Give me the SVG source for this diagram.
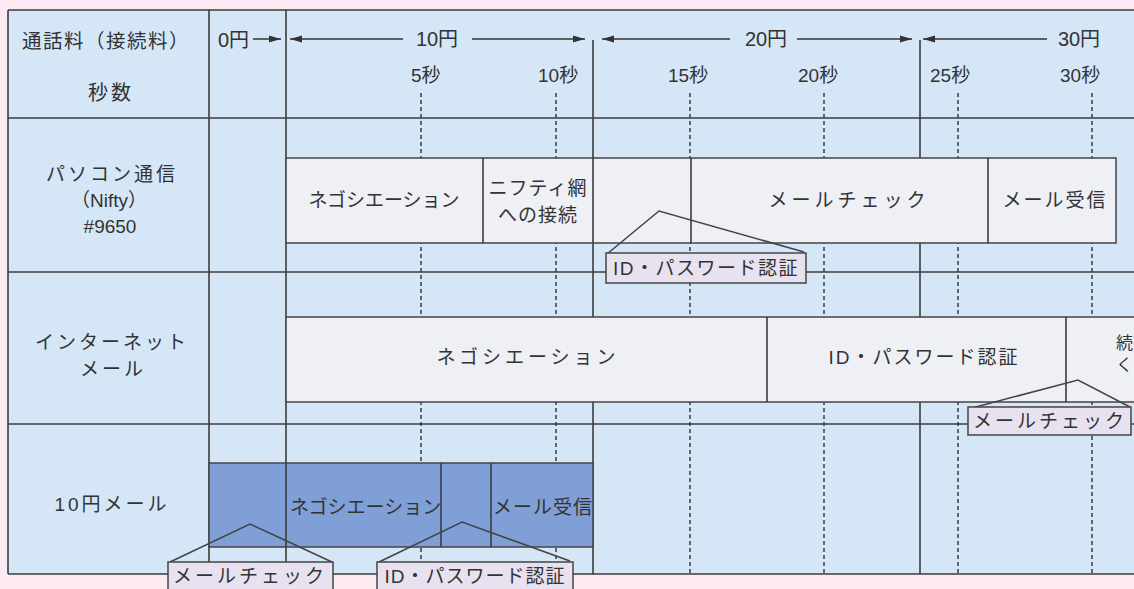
<svg xmlns="http://www.w3.org/2000/svg" width="1134" height="589" viewBox="0 0 1134 589">
<defs>
<style>
text{font-family:"Liberation Sans","Noto Sans CJK JP",sans-serif;fill:#333;font-size:19px}
.c{text-anchor:middle}
.grid{stroke:#3c3c3c;stroke-width:1.6;fill:none}
.dash{stroke:#3c3c3c;stroke-width:1.5;stroke-dasharray:4 3;fill:none}
.box{fill:#eef0f6;stroke:#444;stroke-width:1.5}
.dbox{fill:#809fd6;stroke:#444;stroke-width:1.5}
.lab{fill:#e8e1ef;stroke:#444;stroke-width:1.5}
.call{stroke:#444;stroke-width:1.5;fill:none}
.arr{stroke:#333;stroke-width:1.5;fill:none}
</style>
<marker id="ah" viewBox="0 0 12 8" refX="12" refY="4" markerWidth="12" markerHeight="8" markerUnits="userSpaceOnUse" orient="auto-start-reverse">
<path d="M0,0.5 L12,4 L0,7.5 Z" fill="#333"/>
</marker>
</defs>
<rect x="0" y="0" width="1134" height="589" fill="#fce9f1"/>
<rect x="8" y="10" width="1130" height="564" fill="#d5e7f6"/>

<g id="dashes">
<line class="dash" x1="421" y1="93" x2="421" y2="574"/>
<line class="dash" x1="556" y1="93" x2="556" y2="574"/>
<line class="dash" x1="690" y1="93" x2="690" y2="574"/>
<line class="dash" x1="824" y1="93" x2="824" y2="574"/>
<line class="dash" x1="958" y1="93" x2="958" y2="574"/>
<line class="dash" x1="1092" y1="93" x2="1092" y2="574"/>
</g>

<g id="grid">
<line class="grid" x1="8" y1="10" x2="1134" y2="10"/>
<line class="grid" x1="8" y1="118" x2="1134" y2="118"/>
<line class="grid" x1="8" y1="272" x2="1134" y2="272"/>
<line class="grid" x1="8" y1="424" x2="1134" y2="424"/>
<line class="grid" x1="8" y1="574" x2="1134" y2="574"/>
<line class="grid" x1="8" y1="10" x2="8" y2="574"/>
<line class="grid" x1="209" y1="10" x2="209" y2="574"/>
<line class="grid" x1="286" y1="10" x2="286" y2="574"/>
<line class="grid" x1="593" y1="40" x2="593" y2="574"/>
<line class="grid" x1="920" y1="40" x2="920" y2="574"/>
</g>

<g id="header">
<text x="22" y="48" style="letter-spacing:1.5px;font-size:19.5px">通話料（接続料）</text>
<text x="111" y="100" class="c" style="letter-spacing:3px;font-size:20px">秒数</text>
<text x="218" y="47" style="font-size:20px">0円</text>
<text x="437" y="46" class="c" style="font-size:20px">10円</text>
<text x="766" y="46" class="c" style="font-size:20px">20円</text>
<text x="1079" y="46" class="c" style="font-size:20px">30円</text>
<text x="411" y="82">5秒</text>
<text x="538" y="82">10秒</text>
<text x="668" y="82">15秒</text>
<text x="798" y="82">20秒</text>
<text x="930" y="82">25秒</text>
<text x="1060" y="82">30秒</text>
</g>

<g id="connectors">
<line class="arr" x1="253" y1="39" x2="281" y2="39" marker-end="url(#ah)"/>
<line class="arr" x1="403" y1="39" x2="290" y2="39" marker-end="url(#ah)"/>
<line class="arr" x1="472" y1="39" x2="585" y2="39" marker-end="url(#ah)"/>
<line class="arr" x1="730" y1="39" x2="602" y2="39" marker-end="url(#ah)"/>
<line class="arr" x1="797" y1="39" x2="912" y2="39" marker-end="url(#ah)"/>
<line class="arr" x1="1047" y1="39" x2="923" y2="39" marker-end="url(#ah)"/>
</g>

<g id="row-pc">
<text x="112" y="181" class="c" style="letter-spacing:3px">パソコン通信</text>
<text x="109" y="207" class="c">（Nifty）</text>
<text x="110" y="233" class="c">#9650</text>
<rect class="box" x="286" y="158" width="830" height="85"/>
<line class="grid" x1="483" y1="158" x2="483" y2="243"/>
<line class="grid" x1="593" y1="158" x2="593" y2="243"/>
<line class="grid" x1="691" y1="158" x2="691" y2="243"/>
<line class="grid" x1="988" y1="158" x2="988" y2="243"/>
<text x="384" y="207" class="c">ネゴシエーション</text>
<text x="538" y="195" class="c" style="letter-spacing:1px">ニフティ網</text>
<text x="538" y="222" class="c" style="letter-spacing:1px">への接続</text>
<text x="849" y="207" class="c" style="letter-spacing:4px">メールチェック</text>
<text x="1055" y="207" class="c" style="letter-spacing:2px">メール受信</text>
</g>

<g id="row-inet">
<text x="112" y="349" class="c" style="letter-spacing:3px">インターネット</text>
<text x="113" y="376" class="c" style="letter-spacing:3px">メール</text>
<rect class="box" x="286" y="317" width="860" height="85"/>
<line class="grid" x1="767" y1="317" x2="767" y2="402"/>
<line class="grid" x1="1066" y1="317" x2="1066" y2="402"/>
<text x="528" y="364" class="c" style="letter-spacing:4px">ネゴシエーション</text>
<text x="924" y="364" class="c" style="letter-spacing:2px">ID・パスワード認証</text>
<text x="1116" y="349" style="font-size:17px">続</text>
<text x="1116" y="371" style="font-size:17px">く</text>
</g>

<g id="row-10yen">
<text x="112" y="511" class="c" style="letter-spacing:3px">10円メール</text>
<rect class="dbox" x="209" y="463" width="384" height="84"/>
<line class="grid" x1="286" y1="463" x2="286" y2="547"/>
<line class="grid" x1="441" y1="463" x2="441" y2="547"/>
<line class="grid" x1="491" y1="463" x2="491" y2="547"/>
<text x="290" y="514">ネゴシエーション</text>
<text x="543" y="514" class="c" style="letter-spacing:1px">メール受信</text>
</g>

<g id="callouts">
<polyline class="call" points="607,254 659,211 804,252"/>
<rect class="lab" x="606" y="253" width="200" height="30"/>
<text x="706" y="275" class="c" style="letter-spacing:1.5px">ID・パスワード認証</text>

<polyline class="call" points="972,408 1078,380 1130,407"/>
<rect class="lab" x="968" y="407" width="163" height="28"/>
<text x="1050" y="428" class="c" style="letter-spacing:3px">メールチェック</text>

<polyline class="call" points="170,562 250,524 332,562"/>
<rect class="lab" x="168" y="562" width="165" height="30"/>
<text x="250" y="583" class="c" style="letter-spacing:3px">メールチェック</text>

<polyline class="call" points="379,562 462,522 570,561"/>
<rect class="lab" x="377" y="562" width="196" height="30"/>
<text x="475" y="583" class="c" style="letter-spacing:1px">ID・パスワード認証</text>
</g>
</svg>
